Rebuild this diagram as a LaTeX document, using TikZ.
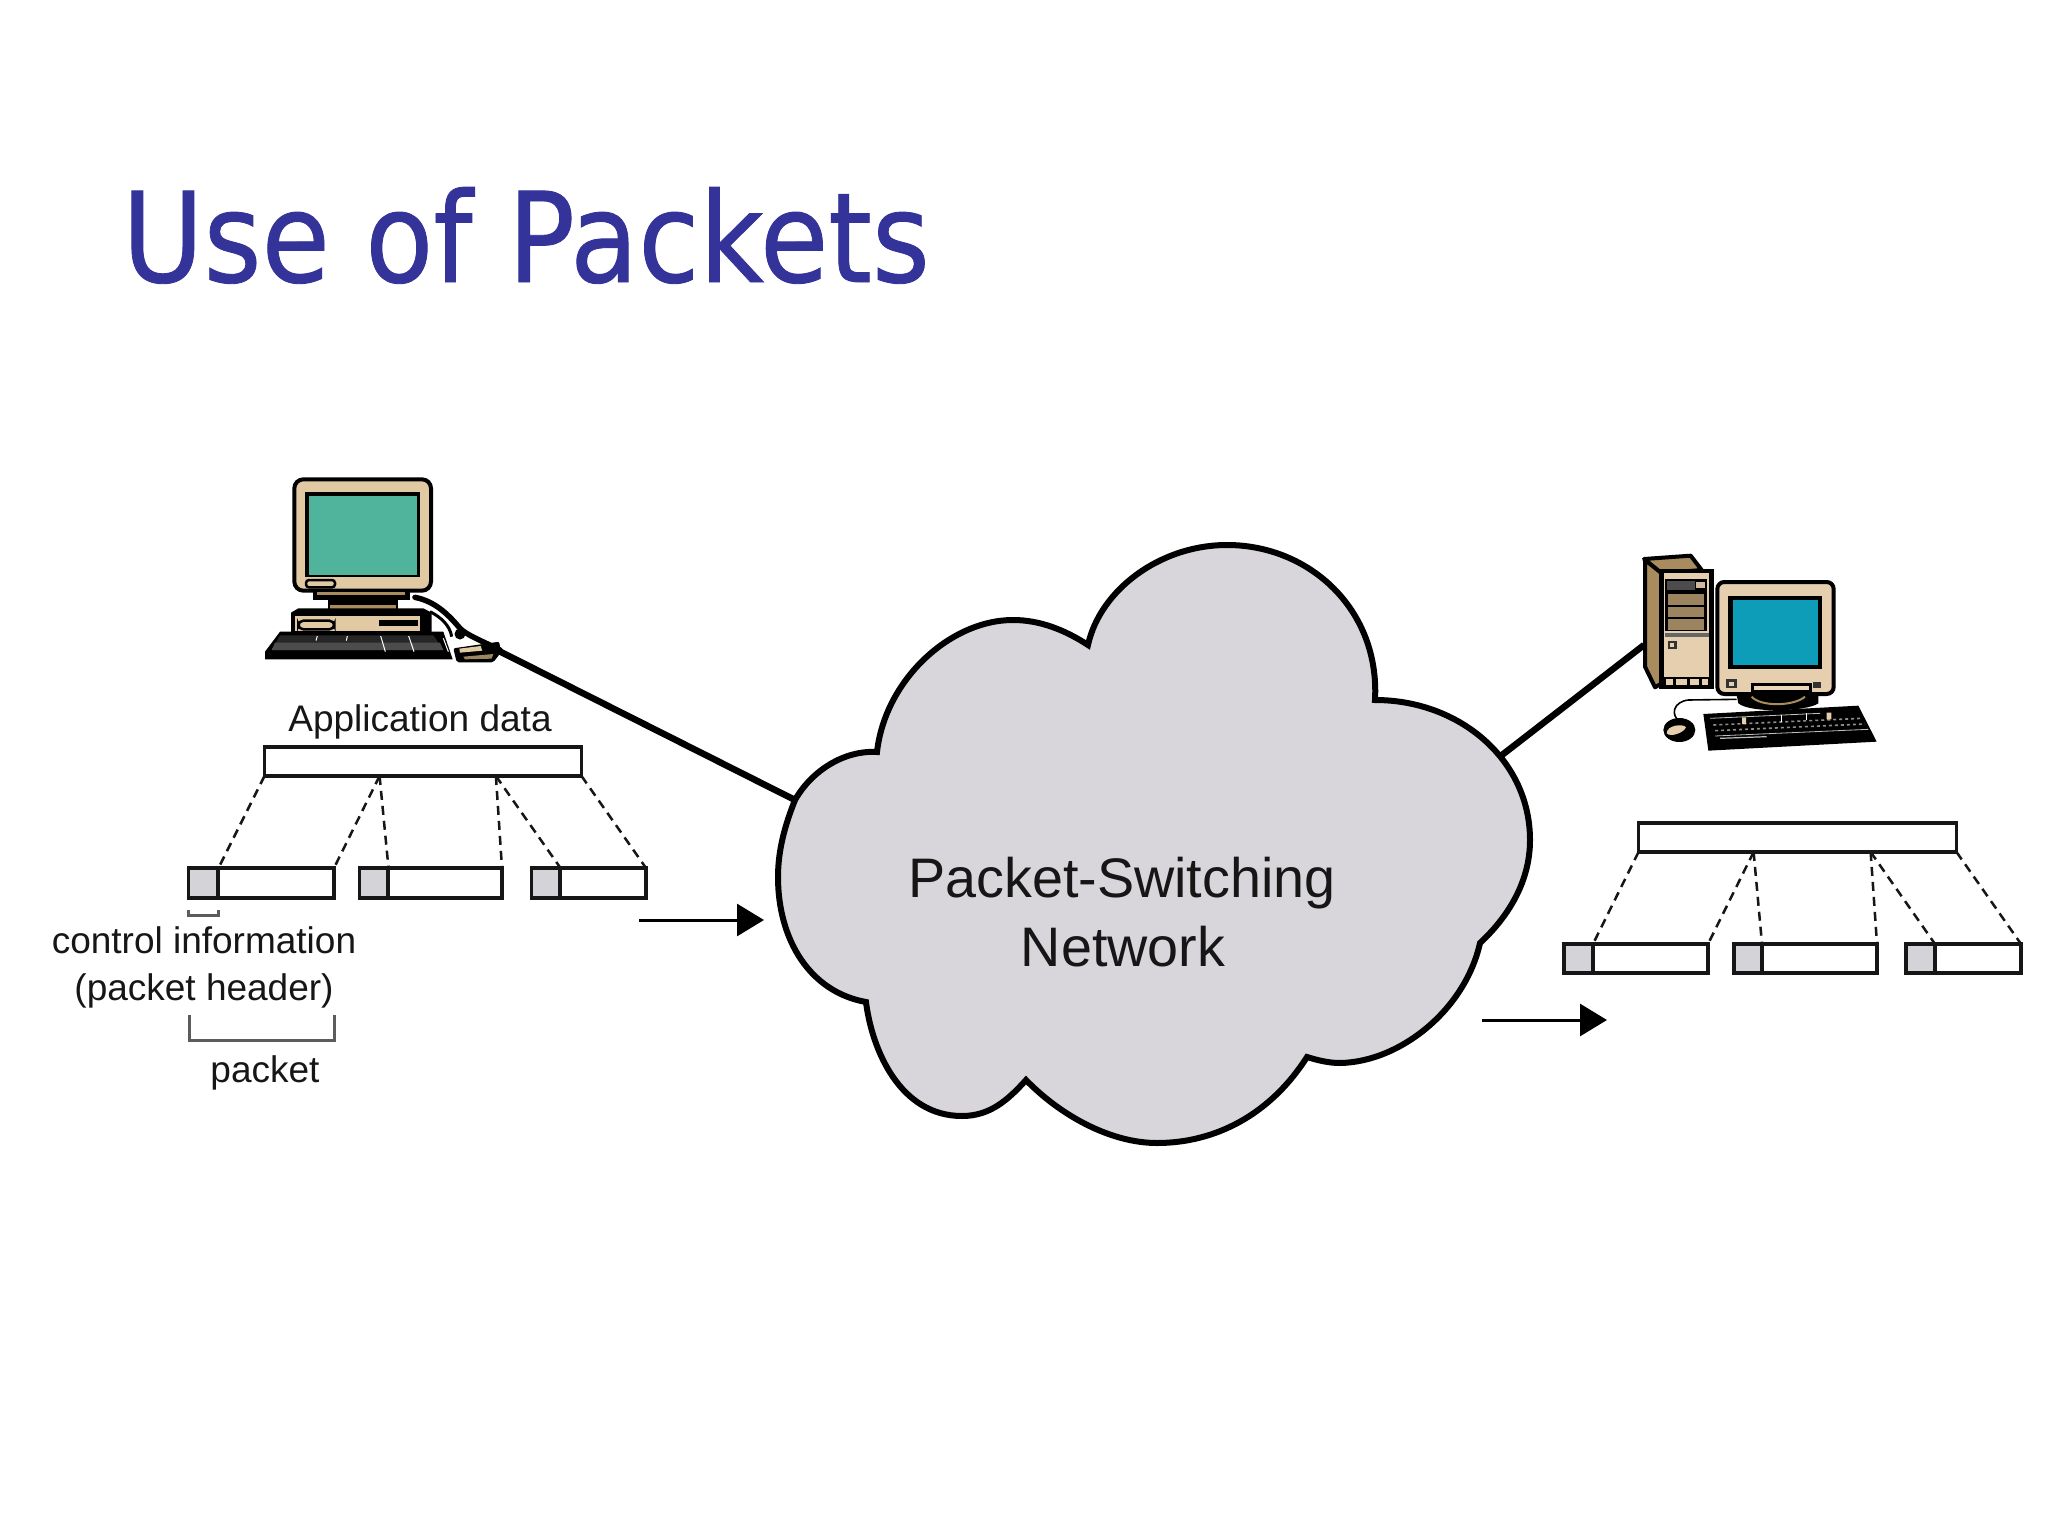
\documentclass[tikz,border=0pt]{standalone}
\usepackage{fontspec}
\setmainfont{Liberation Sans}
\newfontfamily\titlefont[FakeBold=0.7]{DejaVu Sans}
\usetikzlibrary{arrows.meta,calc}
\definecolor{titleblue}{HTML}{333399}
\definecolor{cloudgrey}{HTML}{D8D6DA}
\definecolor{headgrey}{HTML}{D4D3D7}
\definecolor{inktone}{HTML}{161616}
\definecolor{tanA}{HTML}{E1C9A4}
\definecolor{tanB}{HTML}{E6CFAE}
\definecolor{brownA}{HTML}{A88C5E}
\definecolor{brownB}{HTML}{9C8460}
\definecolor{tealscreen}{HTML}{50B49C}
\definecolor{bluescreen}{HTML}{0E9DB8}
\tikzset{
  pktbox/.style={draw=inktone,line width=3.5pt,fill=white,inner sep=0pt,outer sep=0pt,anchor=north west},
  pkthead/.style={pktbox,fill=headgrey},
  dashlink/.style={draw=inktone,line width=2.5pt,dash pattern=on 9pt off 6pt},
  wire/.style={draw=black,line width=6.5pt},
  flow/.style={draw=black,line width=3pt,-{Triangle[length=27pt,width=32pt]}},
  brace/.style={draw=inktone!70,line width=3pt},
  lab/.style={font=\fontsize{37}{37}\selectfont,text=inktone,anchor=base,inner sep=0pt},
  netlab/.style={font=\fontsize{55.7}{55.7}\selectfont,text=inktone,anchor=base,inner sep=0pt}
}
\begin{document}
\begin{tikzpicture}[x=1pt,y=-1pt]
\useasboundingbox (0,0) rectangle (2048,1536);
\fill[white] (0,0) rectangle (2048,1536);

% title
\node[font=\titlefont\fontsize{125}{125}\selectfont,text=titleblue,anchor=base west,inner sep=0pt,xscale=.89,draw=none] (title) at (122,282) {Use of Packets};

% connector anchors
\coordinate (cloudL) at (795,800);
\coordinate (cloudR) at (1502,755);
\coordinate (pcL) at (497,650);
\coordinate (pcR) at (1644,645);
\draw[wire] (pcL) -- (cloudL);
\draw[wire] (pcR) -- (cloudR);

% cloud
\draw[fill=cloudgrey,draw=black,line width=6pt,line join=miter]
  (795,800) .. controls (812,770) and (845,750) .. (877,752)
  .. controls (885,680) and (950,620) .. (1013,620)
  .. controls (1040,620) and (1065,630) .. (1088,645)
  .. controls (1100,590) and (1160,545) .. (1227,545)
  .. controls (1310,545) and (1380,610) .. (1375,700)
  .. controls (1460,700) and (1530,760) .. (1530,840)
  .. controls (1530,880) and (1510,915) .. (1480,943)
  .. controls (1465,1010) and (1400,1062) .. (1340,1063)
  .. controls (1328,1063) and (1317,1060) .. (1307,1057)
  .. controls (1270,1115) and (1215,1143) .. (1157,1143)
  .. controls (1110,1143) and (1060,1115) .. (1026,1080)
  .. controls (1008,1100) and (990,1116) .. (962,1116)
  .. controls (900,1116) and (872,1050) .. (866,1002)
  .. controls (810,992) and (778,940) .. (778,877)
  .. controls (778,850) and (785,825) .. (795,800)
  -- cycle;
\node[netlab] (net1) at (1122,897) {Packet-Switching};
\node[netlab] (net2) at (1123,966) {Network};

% left computer (coordinates as in a 3x crop)
\begin{scope}[shift={(230,460)},x=.33333pt,y=-.33333pt]
  \draw[black,fill=tanA,line width=4pt,rounded corners=9pt] (193,58) rectangle (603,392);
  \fill[black] (225,97) rectangle (570,352);
  \fill[tealscreen] (237,108) rectangle (560,345);
  \draw[black,fill=tanA,line width=2.5pt,rounded corners=3pt] (228,360) rectangle (315,382);
  \fill[black] (248,395) rectangle (540,420);
  \fill[brownA] (262,397) rectangle (525,405);
  \fill[black] (295,420) rectangle (505,450);
  \fill[brownA] (300,436) rectangle (498,446);
  \fill[black] (183,458) -- (205,445) -- (580,445) -- (605,458) -- (605,518) -- (183,518) -- cycle;
  \fill[tanA] (195,468) rectangle (570,512);
  \draw[black,fill=tanA,line width=2.5pt,rounded corners=5pt] (205,482) rectangle (313,508);
  \fill[black] (448,480) rectangle (565,498);
  \fill[black] (150,515) -- (640,515) -- (668,598) -- (105,598) -- (105,575) -- cycle;
  \fill[black!85] (150,526) -- (610,526) -- (640,570) -- (125,570) -- cycle;
  \fill[black!70] (135,548) -- (630,548) -- (640,570) -- (125,570) -- cycle;
  \draw[white,line width=1pt] (262,528) -- (258,542) (352,528) -- (349,542) (452,528) -- (466,575) (536,528) -- (552,575) (640,535) -- (655,575);
  \draw[black,line width=5.5pt,line cap=round] (555,412) .. controls (620,425) and (660,470) .. (690,505) .. controls (710,525) and (750,540) .. (810,570);
  \draw[black,line width=3pt] (600,455) .. controls (630,470) and (660,495) .. (665,530);
  \fill[black] (690,522) circle (5.5pt);
  \fill[black,rounded corners=2pt] (670,565) -- (808,545) -- (812,578) -- (790,607) -- (680,607) -- cycle;
  \fill[tanA] (688,566) -- (752,558) -- (757,572) -- (690,578) -- cycle;
  \fill[brownB] (700,590) -- (790,582) -- (785,596) -- (705,598) -- cycle;
\end{scope}

% right computer (coordinates as in a 3x crop)
\begin{scope}[shift={(1620,540)},x=.33333pt,y=-.33333pt]
  \draw[black,fill=brownA,line width=4pt,line join=round] (72,57) -- (212,47) -- (245,90) -- (125,100) -- cycle;
  \draw[black,fill=brownA,line width=4pt,line join=round] (75,60) -- (125,100) -- (125,430) -- (105,442) -- (75,380) -- cycle;
  \fill[black] (118,88) rectangle (282,448);
  \fill[tanB] (132,100) rectangle (268,412);
  \fill[black] (135,118) rectangle (262,272);
  \fill[black!70] (140,122) rectangle (225,150);
  \fill[tanB!90!black] (228,125) rectangle (254,143);
  \foreach \yy in {163,200,238} {\fill[brownB] (145,\yy) rectangle (252,\yy+31);}
  \fill[black!60] (135,278) rectangle (268,290);
  \fill[tanB] (135,290) rectangle (268,408);
  \fill[black!80] (143,303) rectangle (170,328);
  \fill[tanB] (150,310) rectangle (162,320);
  \foreach \xa/\xb in {137/160,168/200,210/238,245/265} {\fill[tanB] (\xa,418) rectangle (\xb,435);}
  \draw[black,fill=tanB,line width=4pt,rounded corners=7pt] (292,126) rectangle (641,462);
  \fill[black] (325,168) rectangle (605,388);
  \fill[bluescreen] (338,180) rectangle (595,375);
  \fill[black!80] (318,418) rectangle (352,445);
  \fill[tanB] (327,427) rectangle (342,437);
  \draw[black,fill=tanB!85!white,line width=3pt] (398,432) rectangle (572,455);
  \fill[black!80] (578,426) rectangle (602,445);
  \fill[black] (350,465) -- (595,465) -- (595,490) .. controls (560,515) and (390,520) .. (355,490) -- cycle;
  \draw[brownA,line width=2pt] (395,470) .. controls (420,500) and (520,500) .. (555,470);
  \draw[black,line width=1.6pt] (350,478) -- (205,480) .. controls (160,485) and (150,525) .. (180,545);
  \fill[black] (178,570) ellipse [x radius=16pt,y radius=12pt];
  \fill[tanB] (140,580) .. controls (140,555) and (190,550) .. (198,562) .. controls (190,580) and (150,592) .. (140,580) -- cycle;
  \fill[black] (250,522) -- (715,497) -- (770,605) -- (265,632) -- cycle;
  \draw[black!25,line width=.8pt] (270,535) -- (600,520) (285,588) -- (745,568);
  \draw[black!45,line width=1.6pt,dash pattern=on 3pt off 3pt] (280,555) -- (725,535) (285,572) -- (735,552);
  \draw[black!25,line width=1.2pt] (300,595) -- (440,590);
  \fill[tanB] (366,532) rectangle (378,552) (620,518) rectangle (634,538);
  \draw[white,line width=.8pt] (484,525) -- (484,545) (560,520) -- (560,540);
\end{scope}

% left data
\node[lab] (appdata) at (420,731) {Application data};
\node[pktbox,minimum width=317pt,minimum height=29pt] (app) at (264.5,747) {};
\node[pkthead,minimum width=30pt,minimum height=30pt] (h1) at (188.5,868) {};
\node[pktbox,minimum width=116pt,minimum height=30pt] (b1) at (218,868) {};
\node[pkthead,minimum width=29pt,minimum height=30pt] (h2) at (359.5,868) {};
\node[pktbox,minimum width=114pt,minimum height=30pt] (b2) at (388,868) {};
\node[pkthead,minimum width=29pt,minimum height=30pt] (h3) at (531.5,868) {};
\node[pktbox,minimum width=86pt,minimum height=30pt] (b3) at (560,868) {};
\coordinate (aM1) at ($(app.south west)!.363!(app.south east)$);
\coordinate (aM2) at ($(app.south west)!.73!(app.south east)$);
\draw[dashlink] (app.south west) -- (h1.north east);
\draw[dashlink] (aM1) -- (b1.north east);
\draw[dashlink] (aM1) -- (h2.north east);
\draw[dashlink] (aM2) -- (b2.north east);
\draw[dashlink] (aM2) -- (h3.north east);
\draw[dashlink] (app.south east) -- (b3.north east);
\draw[brace] (h1.south west) ++(0,12) -- ++(0,5) -| ($(h1.south east)+(0,12)$);
\node[lab] (ctrl1) at (204,953) {control information};
\node[lab] (ctrl2) at (204,1000) {(packet header)};
\coordinate (brA) at (189,1015);
\coordinate (brB) at (334,1015);
\draw[brace] (brA) -- ++(0,25) -| (brB);
\node[lab] (pktlab) at (265,1082) {packet};
\coordinate (fl1a) at (639,920);
\coordinate (fl1b) at (764,920);
\draw[flow] (fl1a) -- (fl1b);

% right data
\node[pktbox,minimum width=318pt,minimum height=29pt] (appR) at (1638.5,823) {};
\node[pkthead,minimum width=29pt,minimum height=29pt] (rh1) at (1564,944) {};
\node[pktbox,minimum width=115pt,minimum height=29pt] (rb1) at (1593,944) {};
\node[pkthead,minimum width=28pt,minimum height=29pt] (rh2) at (1734,944) {};
\node[pktbox,minimum width=115pt,minimum height=29pt] (rb2) at (1762,944) {};
\node[pkthead,minimum width=29pt,minimum height=29pt] (rh3) at (1906,944) {};
\node[pktbox,minimum width=86pt,minimum height=29pt] (rb3) at (1935,944) {};
\coordinate (rM1) at ($(appR.south west)!.362!(appR.south east)$);
\coordinate (rM2) at ($(appR.south west)!.73!(appR.south east)$);
\draw[dashlink] (appR.south west) -- (rh1.north east);
\draw[dashlink] (rM1) -- (rb1.north east);
\draw[dashlink] (rM1) -- (rh2.north east);
\draw[dashlink] (rM2) -- (rb2.north east);
\draw[dashlink] (rM2) -- (rh3.north east);
\draw[dashlink] (appR.south east) -- (rb3.north east);
\coordinate (fl2a) at (1482,1020);
\coordinate (fl2b) at (1607,1020);
\draw[flow] (fl2a) -- (fl2b);
\end{tikzpicture}
\end{document}
